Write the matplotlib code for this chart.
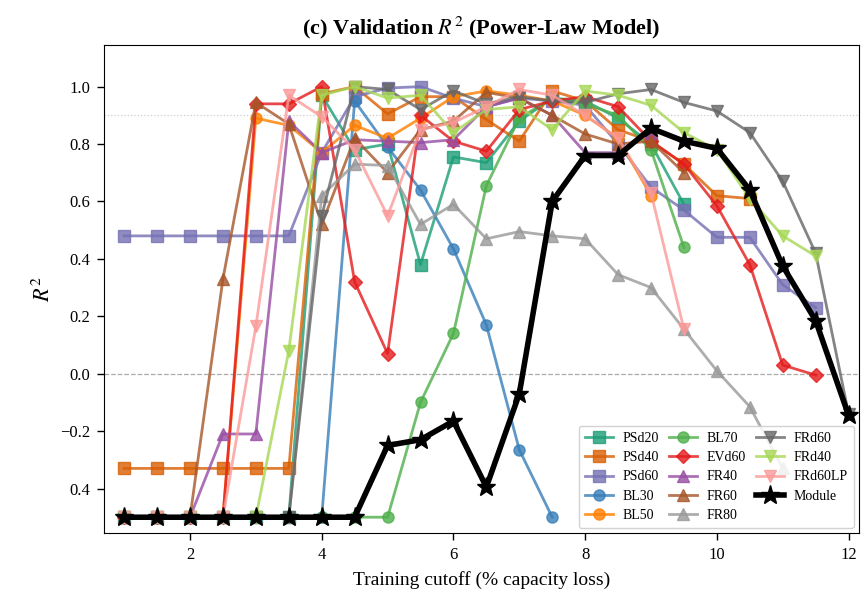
import numpy as np
import matplotlib
matplotlib.use("Agg")
import matplotlib.pyplot as plt

plt.rcParams['font.family'] = ['Liberation Serif', 'DejaVu Serif']
plt.rcParams['mathtext.fontset'] = 'stix'

# Training cutoffs (% capacity loss)
cutoff = [1.0, 1.5, 2.0, 2.5, 3.0, 3.5, 4.0, 4.5, 5.0, 5.5, 6.0, 6.5,
          7.0, 7.5, 8.0, 8.5, 9.0, 9.5, 10.0, 10.5, 11.0, 11.5, 12.0]

# Validation R^2 per cell / module (values clipped at -0.5)
psd20 = [-0.5, -0.5, -0.5, -0.5, -0.5, -0.5, 0.97, 0.78, 0.80, 0.38, 0.755, 0.735,
         0.88, 0.96, 0.95, 0.89, 0.80, 0.59]
psd40 = [-0.33, -0.33, -0.33, -0.33, -0.33, -0.33, 0.975, 1.0, 0.905, 0.965, 0.965, 0.885,
         0.81, 0.985, 0.95, 0.85, 0.81, 0.73, 0.62, 0.61]
psd60 = [0.48, 0.48, 0.48, 0.48, 0.48, 0.48, 0.77, 0.965, 0.995, 1.0, 0.96, 0.93,
         0.96, 0.95, 0.935, 0.80, 0.65, 0.57, 0.475, 0.475, 0.31, 0.23]
bl30 = [-0.5, -0.5, -0.5, -0.5, -0.5, -0.5, -0.5, 0.95, 0.79, 0.64, 0.435, 0.17,
        -0.265, -0.5]
bl50 = [-0.5, -0.5, -0.5, -0.5, 0.89, 0.865, 0.77, 0.865, 0.82, 0.89, 0.965, 0.985,
        0.97, 0.95, 0.90, 0.82, 0.62]
bl70 = [-0.5, -0.5, -0.5, -0.5, -0.5, -0.5, -0.5, -0.5, -0.5, -0.10, 0.14, 0.655,
        0.89, 0.96, 0.94, 0.90, 0.78, 0.44]
evd60 = [-0.5, -0.5, -0.5, -0.5, 0.94, 0.94, 1.0, 0.32, 0.07, 0.90, 0.81, 0.775,
         0.92, 0.95, 0.965, 0.93, 0.81, 0.73, 0.585, 0.38, 0.03, -0.005]
fr40 = [-0.5, -0.5, -0.5, -0.21, -0.21, 0.88, 0.77, 0.815, 0.81, 0.805, 0.815, 0.93,
        0.96, 0.90, 0.77, 0.77, 0.84]
fr60 = [-0.5, -0.5, -0.5, 0.33, 0.945, 0.87, 0.52, 0.82, 0.70, 0.85, 0.88, 0.98,
        0.96, 0.90, 0.835, 0.80, 0.81, 0.70]
fr80 = [-0.5, -0.5, -0.5, -0.5, -0.5, -0.5, 0.62, 0.73, 0.725, 0.52, 0.59, 0.47,
        0.495, 0.48, 0.47, 0.345, 0.30, 0.155, 0.01, -0.115, -0.33]
frd60 = [-0.5, -0.5, -0.5, -0.5, -0.5, -0.5, 0.55, 1.0, 0.99, 0.92, 0.985, 0.94,
         0.965, 0.95, 0.945, 0.975, 0.99, 0.945, 0.915, 0.84, 0.67, 0.42, -0.14]
frd40 = [-0.5, -0.5, -0.5, -0.5, -0.5, 0.08, 0.97, 1.0, 0.96, 0.97, 0.84, 0.92,
         0.93, 0.85, 0.985, 0.97, 0.935, 0.84, 0.78, 0.61, 0.48, 0.41]
frd60lp = [-0.5, -0.5, -0.5, -0.5, 0.165, 0.97, 0.895, 0.78, 0.55, 0.85, 0.875, 0.93,
           0.99, 0.97, 0.90, 0.82, 0.63, 0.155]
module = [-0.5, -0.5, -0.5, -0.5, -0.5, -0.5, -0.5, -0.5, -0.25, -0.23, -0.165, -0.395,
          -0.07, 0.60, 0.76, 0.76, 0.855, 0.81, 0.785, 0.64, 0.375, 0.185, -0.145]

series = [
    ("PSd20", psd20, '#1b9e77', 's'),
    ("PSd40", psd40, '#d95f02', 's'),
    ("PSd60", psd60, '#7570b3', 's'),
    ("BL30", bl30, '#377eb8', 'o'),
    ("BL50", bl50, '#ff7f00', 'o'),
    ("BL70", bl70, '#4daf4a', 'o'),
    ("EVd60", evd60, '#e41a1c', 'D'),
    ("FR40", fr40, '#984ea3', '^'),
    ("FR60", fr60, '#a65628', '^'),
    ("FR80", fr80, '#999999', '^'),
    ("FRd60", frd60, '#666666', 'v'),
    ("FRd40", frd40, '#a6d854', 'v'),
    ("FRd60LP", frd60lp, '#fb9a99', 'v'),
]

ytick_vals = [-0.4, -0.2, 0.0, 0.2, 0.4, 0.6, 0.8, 1.0]
ytick_text = ['0.4', '\u22120.2', '0.0', '0.2', '0.4', '0.6', '0.8', '1.0']
xtick_vals = [2, 4, 6, 8, 10, 12]

fig = plt.figure(figsize=(8.61, 5.95), dpi=100)
# axes: left spine ~104 px, top ~45 px, bottom ~533 px
ax = fig.add_axes([0.1208, 1 - 533 / 595, 0.877, (533 - 45) / 595])

ax.axhline(0.0, color='#aaaaaa', lw=0.9, ls='--', zorder=1)
ax.axhline(0.9, color='#cccccc', lw=0.9, ls=':', zorder=1)

for name, vals, col, mk in series:
    ax.plot(cutoff[:len(vals)], vals, color=col, marker=mk, lw=2.0,
            ms=8 if mk != 'D' else 7, alpha=0.8, label=name, zorder=2)

ax.plot(cutoff[:len(module)], module, color='black', marker='*', lw=4.0,
        ms=14, label='Module', zorder=5)

ax.set_xlim(0.694, 12.16)
ax.set_ylim(-0.555, 1.145)
ax.set_xticks(xtick_vals)
ax.set_yticks(ytick_vals)
ax.set_yticklabels(ytick_text)
ax.tick_params(labelsize=12, length=5, width=1.0, pad=5)

ax.set_title(r"(c) Validation $R^2$ (Power-Law Model)", fontsize=16,
             fontweight='bold', pad=8)
ax.set_xlabel("Training cutoff (% capacity loss)", fontsize=14, labelpad=6)
ax.set_ylabel(r"$R^2$", fontsize=16)

ax.legend(loc='lower right', ncol=3, fontsize=10, framealpha=0.85,
          handlelength=2.0, columnspacing=0.75, labelspacing=0.45,
          borderpad=0.45, handletextpad=0.7, borderaxespad=0.35)

fig.savefig("out.png", dpi=100)
